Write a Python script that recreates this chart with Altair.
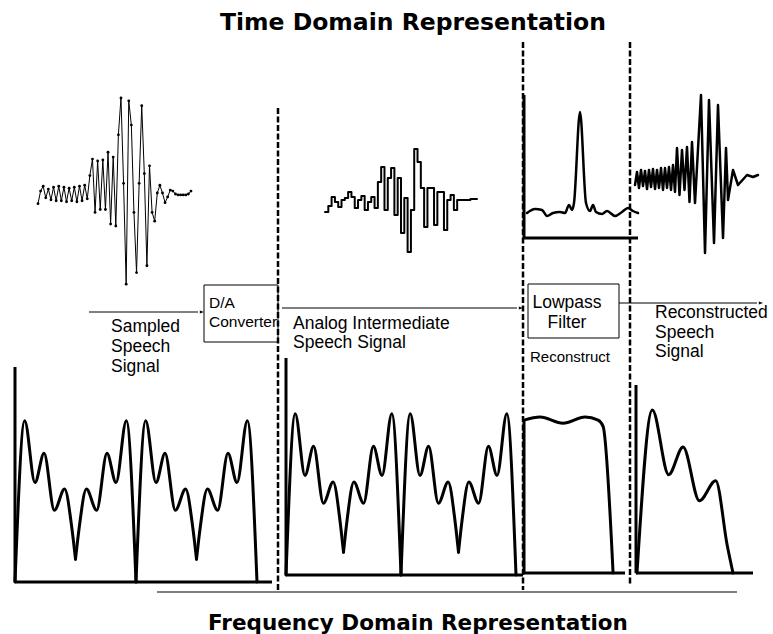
import altair as alt
import numpy as np
import pandas as pd

# ---------------- data ----------------
# sampled speech signal: one value per sampling instant (arbitrary units)
sampled_speech = [-11, 2, 7, -5, 4, -7, 6, -8, 7, -8, 6, -9, 5, -8, 6, -9, 7, -8, 8, -6,
                  18, 35, -20, 33, -17, 34, -17, 42, -32, 37, -34, 60, 98, 10, -94, 95, 70, -20, -82, 10,
                  90, 20, -75, 28, -20, -29, 0, 8, 0, -10, -4, 3, 2, -1, -2, -2, -2, -2, -1, 2]
# zero-order-hold (D/A output) levels, one per hold interval
held_levels = [-7, -1, 8, 3, -2, 5, 7, 13, 8, -3, 5, 9, -5, 3, 8, -3, 23, 38, -5, 27,
               37, -10, 27, -28, 7, -47, -5, 56, 43, 17, -22, 17, 17, -20, 13, 13, -25, 5, 10, -5,
               5, 5, 5, 5, 6, 6]
# reconstructed speech signal
recon_time = [0, 2, 4, 6, 8, 10, 12, 14, 16, 18, 20, 22, 24, 26, 28, 30, 32, 34, 36, 38, 40,
              42, 44.5, 47, 49.5, 52, 54.5, 57, 60, 66, 70, 74, 79, 83, 88,
              91, 93, 98, 103, 112, 118, 123]
recon_amp = [-5, 8, -8, 10, -6, 9, -9, 10, -7, 11, -9, 10, -8, 12, -10, 12, -8, 13, -10, 15, -12,
             32, -15, 30, -10, 33, -22, 38, -23, 85, -73, 80, -63, 75, -58,
             32, -20, 10, -5, 5, 3, 5]
# impulse response of the reconstruction lowpass filter
pulse_time = [3, 11, 18, 23, 29, 36, 41, 45, 48, 50, 56, 62, 66, 69, 72, 78, 83, 91, 98, 104, 109, 114]
pulse_amp = [25, 29, 28, 22, 25, 26, 25, 33, 28, 35, 126, 35, 27, 33, 26, 24, 27, 22, 26, 30, 27, 25]
# baseband speech spectrum (frequency as fraction of the sampling rate)
spec_freq = [0, 0.08, 0.165, 0.24, 0.325, 0.41, 0.47, 0.5]
spec_mag = [0, 0.99, 0.61, 0.79, 0.44, 0.57, 0.33, 0.14]
# lowpass filter magnitude response
filter_freq = [0, 0.09, 0.219, 0.343, 0.416, 0.444, 0.5]
filter_gain = [0.98, 1.0, 0.96, 1.0, 0.98, 0.94, 0.0]

title_top = "Time Domain Representation"
title_bottom = "Frequency Domain Representation"
lbl_sampled = ["Sampled", "Speech", "Signal"]
lbl_da = ["D/A", "Converter"]
lbl_analog = ["Analog Intermediate", "Speech Signal"]
lbl_lowpass = ["Lowpass", "Filter"]
lbl_reconstruct = "Reconstruct"
lbl_recon_sig = ["Reconstructed", "Speech", "Signal"]

# ---------------- tables ----------------
df_samp = pd.DataFrame({"n": np.arange(len(sampled_speech)), "v": sampled_speech})
held = held_levels + [held_levels[-1]]
df_held = pd.DataFrame({"k": np.arange(len(held)), "v": held})
df_recon = pd.DataFrame({"t": recon_time, "v": recon_amp})
df_pulse = pd.DataFrame({"t": pulse_time, "v": pulse_amp})

hf = np.array(spec_freq)
hm = np.array(spec_mag)
# sampled spectrum: baseband, its mirrored image, and the next repetition (one piece each)
pieces = [(hf, hm), (1 - hf[::-1], hm[::-1]), (1 + hf, hm), (2 - hf[::-1], hm[::-1])]
df_spec2 = pd.concat([pd.DataFrame({"f": f, "m": m, "piece": i}) for i, (f, m) in enumerate(pieces)],
                     ignore_index=True)
df_filt = pd.DataFrame({"f": filter_freq, "m": filter_gain})
gain_at = np.interp(hf, filter_freq, filter_gain)
df_out = pd.DataFrame({"f": hf, "m": hm * gain_at})

dummy = pd.DataFrame({"a": [0]})


def sc(domain, rng):
    return alt.Scale(domain=domain, range=rng, nice=False, zero=False)


def curve(df, xf, yf, xdom, xr, ydom, yr, w, interp="linear", detail=None):
    enc = dict(x=alt.X(f"{xf}:Q", scale=sc(xdom, xr), axis=None),
               y=alt.Y(f"{yf}:Q", scale=sc(ydom, yr), axis=None))
    if detail:
        enc["detail"] = alt.Detail(f"{detail}:N")
    return alt.Chart(df).mark_line(color="black", strokeWidth=w, interpolate=interp,
                                   strokeJoin="round", strokeCap="round").encode(**enc)


def seg(x1, y1, x2, y2, w=1.0, dash=None):
    kw = dict(color="black", strokeWidth=w)
    if dash:
        kw["strokeDash"] = dash
    return alt.Chart(dummy).mark_rule(**kw).encode(
        x=alt.value(x1), y=alt.value(y1), x2=alt.value(x2), y2=alt.value(y2))


def box(x1, y1, x2, y2):
    return alt.Chart(dummy).mark_rect(fillOpacity=0, stroke="black", strokeWidth=1).encode(
        x=alt.value(x1), y=alt.value(y1), x2=alt.value(x2), y2=alt.value(y2))


def head(x, y):
    return alt.Chart(dummy).mark_point(shape="M0,0L-1,-0.33L-1,0.33Z", filled=True, size=70,
                                       color="black", opacity=1).encode(x=alt.value(x), y=alt.value(y))


def label(txt, x, y, size, bold=False, font="Liberation Sans", align="left"):
    kw = dict(text=txt, font=font, fontSize=size, align=align, baseline="alphabetic", color="black")
    if bold:
        kw["fontWeight"] = "bold"
    return alt.Chart(dummy).mark_text(**kw).encode(x=alt.value(x), y=alt.value(y))


layers = []
# titles
layers.append(label(title_top, 220, 30, 23.5, bold=True, font="DejaVu Sans"))
layers.append(label(title_bottom, 208, 630, 21.5, bold=True, font="DejaVu Sans"))

# dashed separators
DASH = [6, 2.5]
layers += [seg(278, 108, 278, 592, 2.5, DASH), seg(523, 42, 523, 590, 2.5, DASH),
           seg(630, 42, 630, 586, 2.5, DASH)]

# time-domain signals
layers.append(curve(df_samp, "n", "v", [0, 59], [38, 191], [-100, 100], [290, 96], 1.0))
layers.append(alt.Chart(df_samp).mark_circle(size=8, color="black", opacity=1).encode(
    x=alt.X("n:Q", scale=sc([0, 59], [38, 191]), axis=None),
    y=alt.Y("v:Q", scale=sc([-100, 100], [290, 96]), axis=None)))
layers.append(curve(df_held, "k", "v", [0, 46], [325, 477], [-100, 100], [305, 105], 2.0,
                    interp="step-after"))
layers.append(curve(df_recon, "t", "v", [0, 125], [635, 760], [-100, 100], [280, 80], 2.5))
layers.append(curve(df_pulse, "t", "v", [0, 114], [524, 638], [0, 126], [238, 112], 2.5,
                    interp="monotone"))
layers += [seg(524, 95, 524, 238, 3), seg(524, 238, 638, 238, 3)]

# block diagram
layers += [seg(89, 312, 198, 312, 1), head(204, 312), box(204, 285, 278, 342)]
layers += [seg(282, 308, 517, 308, 1), head(523, 308), box(528, 284, 619, 338)]
layers += [seg(619, 303, 757, 303, 1), head(763, 303)]
layers += [label(lbl_da[0], 209, 308, 15.5), label(lbl_da[1], 209, 327, 15.5)]
layers += [label(lbl_lowpass[0], 567, 308, 17.5, align="center"),
           label(lbl_lowpass[1], 567, 328, 17.5, align="center")]
layers += [label(lbl_reconstruct, 530, 362, 15)]
for i, t in enumerate(lbl_sampled):
    layers.append(label(t, 111, 332 + 20 * i, 17.5))
for i, t in enumerate(lbl_analog):
    layers.append(label(t, 293, 329 + 19 * i, 17.5))
for i, t in enumerate(lbl_recon_sig):
    layers.append(label(t, 655, 318 + 19.5 * i, 17.5))

# frequency-domain panels
layers += [seg(15, 367, 15, 582, 3), seg(15, 582, 272, 582, 3)]
layers.append(curve(df_spec2, "f", "m", [0, 2], [15, 257], [0, 1], [582, 419], 3,
                    interp="monotone", detail="piece"))
layers += [seg(286, 358, 286, 575, 3), seg(286, 575, 523, 575, 3)]
layers.append(curve(df_spec2, "f", "m", [0, 2], [286, 516], [0, 1], [575, 412], 3,
                    interp="monotone", detail="piece"))
layers += [seg(524, 420, 524, 573, 3), seg(524, 573, 625, 573, 3)]
layers.append(curve(df_filt, "f", "m", [0, 0.567], [524, 625], [0, 1], [573, 417], 3,
                    interp="monotone"))
layers += [seg(636, 385, 636, 573, 3), seg(636, 573, 753, 573, 3)]
layers.append(curve(df_out, "f", "m", [0, 0.5], [637, 733], [0, 1], [573, 408], 3,
                    interp="monotone"))
layers.append(seg(157, 592, 737, 592, 1.2))

chart = alt.layer(*layers).resolve_scale(x="independent", y="independent").properties(
    width=773, height=634, padding=0, autosize=alt.AutoSizeParams(type="none"),
    background="white"
).configure_view(stroke=None)

chart.save("out.html", embed_options={"renderer": "svg", "actions": False})
